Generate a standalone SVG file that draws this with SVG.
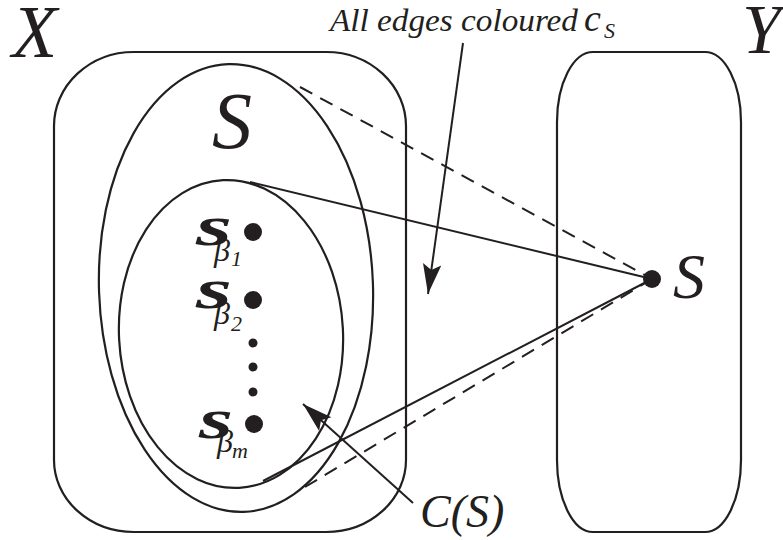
<svg xmlns="http://www.w3.org/2000/svg" width="783" height="540" viewBox="0 0 783 540">
<defs>
<style>
.sh{fill:none;stroke:#231f20;stroke-width:2.2}
.ln{fill:none;stroke:#231f20;stroke-width:2}
.ds{fill:none;stroke:#231f20;stroke-width:2;stroke-dasharray:14 9}
.dot{fill:#231f20}
.t{font-family:"Liberation Serif","Times New Roman",serif;font-style:italic;fill:#231f20}
.b{font-weight:bold}
</style>
<marker id="ah" markerUnits="userSpaceOnUse" markerWidth="30" markerHeight="20" viewBox="0 0 26 16" refX="26" refY="8" orient="auto">
<path d="M0,0 L26,8 L0,16 L5,8 Z" fill="#231f20"/>
</marker>
</defs>
<g id="X">
<path class="sh" d="M134,52 H326 A80,74 0 0 1 406,126 V460 A80,72 0 0 1 326,532 H134 A80,72 0 0 1 54,460 V126 A80,74 0 0 1 134,52 Z"/>
<text class="t" x="12" y="57" font-size="74">X</text>
</g>
<g id="Y">
<path class="sh" d="M593,52 H705 A36,70 0 0 1 741,122 V460 A36,72 0 0 1 705,532 H593 A36,72 0 0 1 557,460 V122 A36,70 0 0 1 593,52 Z"/>
<text class="t" x="742" y="53" font-size="70">Y</text>
</g>
<g id="S-set">
<ellipse class="sh" cx="236" cy="288" rx="137" ry="224" transform="rotate(-2 236 288)"/>
<text class="t" x="212" y="148" font-size="80">S</text>
</g>
<g id="CS">
<ellipse class="sh" cx="231" cy="334" rx="112" ry="154" transform="rotate(-3 231 334)"/>
</g>
<g id="s-beta-1">
<circle class="dot" cx="253" cy="232" r="9"/>
<text class="t b" x="196" y="245" font-size="58" textLength="36" lengthAdjust="spacingAndGlyphs">s</text>
<text class="t" x="214" y="261" font-size="32">β</text>
<text class="t" x="231" y="266" font-size="22">1</text>
</g>
<g id="s-beta-2">
<circle class="dot" cx="253" cy="300" r="9"/>
<text class="t b" x="196" y="308" font-size="58" textLength="36" lengthAdjust="spacingAndGlyphs">s</text>
<text class="t" x="214" y="324" font-size="32">β</text>
<text class="t" x="231" y="331" font-size="22">2</text>
</g>
<g id="ellipsis">
<circle class="dot" cx="253" cy="343" r="4.5"/>
<circle class="dot" cx="253" cy="367" r="4.5"/>
<circle class="dot" cx="253" cy="392" r="4.5"/>
</g>
<g id="s-beta-m">
<circle class="dot" cx="254" cy="424" r="9"/>
<text class="t b" x="199" y="438" font-size="58" textLength="34" lengthAdjust="spacingAndGlyphs">s</text>
<text class="t" x="217" y="452" font-size="32">β</text>
<text class="t" x="232" y="458" font-size="22">m</text>
</g>
<g id="s-point">
<circle class="dot" cx="652" cy="279" r="9"/>
<text class="t" x="673" y="298" font-size="64">S</text>
</g>
<g id="label-edges">
<text class="t" x="330" y="31" font-size="31" textLength="248" lengthAdjust="spacingAndGlyphs">All edges coloured</text>
<text class="t" x="584" y="31" font-size="38">c</text>
<text class="t" x="604" y="38" font-size="22">S</text>
</g>
<g id="label-CS">
<text class="t" x="420" y="527" font-size="46">C(S)</text>
</g>
<g id="connectors">
<line class="ln" x1="250" y1="182" x2="652" y2="279"/>
<line class="ln" x1="263" y1="481" x2="652" y2="279"/>
<line class="ds" x1="300" y1="87" x2="652" y2="279"/>
<line class="ds" x1="305" y1="487" x2="652" y2="279"/>
<line class="ln" x1="463" y1="43" x2="428" y2="294" marker-end="url(#ah)"/>
<line class="ln" x1="413" y1="503" x2="303" y2="404" marker-end="url(#ah)"/>
</g>
</svg>
